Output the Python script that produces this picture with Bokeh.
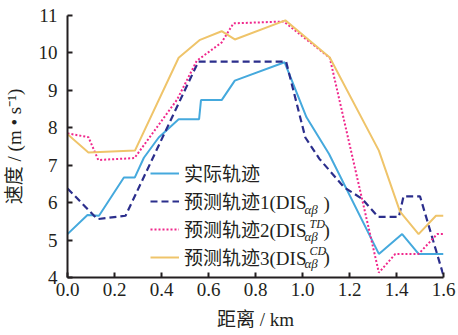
from bokeh.plotting import figure
from bokeh.models import Range1d, FixedTicker, Legend, LegendItem, Label
from bokeh.embed import file_html
from bokeh.resources import INLINE

# ---- data ----
dist_actual = [0, 0.085, 0.134, 0.24, 0.286, 0.325, 0.388, 0.473, 0.56, 0.568, 0.656, 0.712, 0.924, 1.017, 1.113, 1.325, 1.424, 1.494, 1.6]
speed_actual = [5.16, 5.67, 5.65, 6.67, 6.67, 7.2, 7.74, 8.23, 8.23, 8.74, 8.74, 9.26, 9.75, 8.28, 7.30, 4.63, 5.16, 4.63, 4.63]

dist_pred1 = [0, 0.113, 0.127, 0.247, 0.557, 0.93, 1.012, 1.072, 1.177, 1.254, 1.322, 1.41, 1.43, 1.50, 1.6]
speed_pred1 = [6.38, 5.65, 5.56, 5.65, 9.77, 9.77, 7.74, 7.17, 6.41, 6.1, 5.62, 5.62, 6.17, 6.17, 4.05]

dist_pred2 = [0, 0.089, 0.131, 0.285, 0.466, 0.55, 0.656, 0.706, 0.92, 1.116, 1.325, 1.395, 1.494, 1.573, 1.6]
speed_pred2 = [7.85, 7.75, 7.14, 7.19, 8.75, 9.79, 10.28, 10.79, 10.84, 9.87, 4.13, 4.63, 4.63, 5.16, 5.16]

dist_pred3 = [0, 0.089, 0.287, 0.473, 0.564, 0.656, 0.712, 0.927, 1.116, 1.325, 1.415, 1.494, 1.568, 1.6]
speed_pred3 = [7.83, 7.34, 7.39, 9.87, 10.35, 10.58, 10.36, 10.87, 9.88, 7.39, 5.76, 5.16, 5.65, 5.65]

x_ticks = [0.0, 0.2, 0.4, 0.6, 0.8, 1.0, 1.2, 1.4, 1.6]
x_tick_labels = ["0.0", "0.2", "0.4", "0.6", "0.8", "1.0", "1.2", "1.4", "1.6"]
y_ticks = [4, 5, 6, 7, 8, 9, 10, 11]

legend_labels = ["实际轨迹", "预测轨迹1(DIS", "预测轨迹2(DIS", "预测轨迹3(DIS"]
legend_sup = [None, None, "TD", "CD"]

x_label = "距离 / km"
y_label = "速度 / (m • s⁻¹)"

FONT = "Liberation Serif, Noto Sans CJK SC"
AXIS_COLOR = "#231F20"

p = figure(width=458, height=335, output_backend="svg", toolbar_location=None,
           x_range=Range1d(0, 1.6), y_range=Range1d(4, 11),
           min_border_left=65, min_border_right=15, min_border_top=15, min_border_bottom=58)
p.outline_line_color = None
p.grid.visible = False

for ax in (p.xaxis, p.yaxis):
    ax.axis_line_color = AXIS_COLOR
    ax.axis_line_width = 2
    ax.major_tick_line_color = AXIS_COLOR
    ax.major_tick_line_width = 2
    ax.major_tick_in = 5
    ax.major_tick_out = 0
    ax.minor_tick_line_color = None
    ax.major_label_text_font = FONT
    ax.major_label_text_font_size = "19px"
    ax.major_label_text_color = AXIS_COLOR
    ax.axis_label_text_font = FONT
    ax.axis_label_text_font_size = "19px"
    ax.axis_label_text_font_style = "normal"
    ax.axis_label_text_color = AXIS_COLOR

p.xaxis.ticker = FixedTicker(ticks=x_ticks)
p.xaxis.major_label_overrides = {t: l for t, l in zip(x_ticks, x_tick_labels)}
p.yaxis.ticker = FixedTicker(ticks=y_ticks)
p.xaxis.axis_label = x_label
p.yaxis.axis_label = y_label
p.xaxis.major_label_standoff = 5
p.yaxis.major_label_standoff = 10
p.xaxis.axis_label_standoff = 10
p.yaxis.axis_label_standoff = 11

r0 = p.line(dist_actual, speed_actual, line_color="#45A9DD", line_width=2)
r1 = p.line(dist_pred1, speed_pred1, line_color="#2B2E8C", line_width=2.2, line_dash="7 4")
r2 = p.line(dist_pred2, speed_pred2, line_color="#F0288C", line_width=2, line_dash="2 2")
r3 = p.line(dist_pred3, speed_pred3, line_color="#EFC46A", line_width=2)

ROW_H, SPACING, LEG_X, LEG_Y = 26, 1, 83, 7
legend = Legend(items=[LegendItem(label=l, renderers=[r]) for l, r in zip(legend_labels, [r0, r1, r2, r3])],
                location=(LEG_X, LEG_Y), glyph_width=29, glyph_height=ROW_H, label_height=ROW_H,
                label_standoff=5, spacing=SPACING, padding=0, margin=0,
                border_line_color=None, background_fill_alpha=0,
                label_text_font=FONT, label_text_font_size="19px", label_text_color=AXIS_COLOR)
p.add_layout(legend)

n = len(legend_labels)
legend_h = n * ROW_H + (n - 1) * SPACING
s_end = 236
for k in range(1, n):
    yc = LEG_Y + legend_h - ROW_H / 2 - k * (ROW_H + SPACING)
    p.add_layout(Label(x=s_end + 1, y=yc - 6, x_units="screen", y_units="screen", text="αβ",
                       text_font=FONT, text_font_style="italic", text_font_size="13px",
                       text_baseline="middle", text_color=AXIS_COLOR))
    if legend_sup[k]:
        p.add_layout(Label(x=s_end + 6, y=yc + 7, x_units="screen", y_units="screen", text=legend_sup[k],
                           text_font=FONT, text_font_style="italic", text_font_size="12px",
                           text_baseline="middle", text_color=AXIS_COLOR))
    p.add_layout(Label(x=s_end + 20, y=yc, x_units="screen", y_units="screen", text=")",
                       text_font=FONT, text_font_size="19px",
                       text_baseline="middle", text_color=AXIS_COLOR))

open("out.html", "w").write(file_html(p, INLINE))
